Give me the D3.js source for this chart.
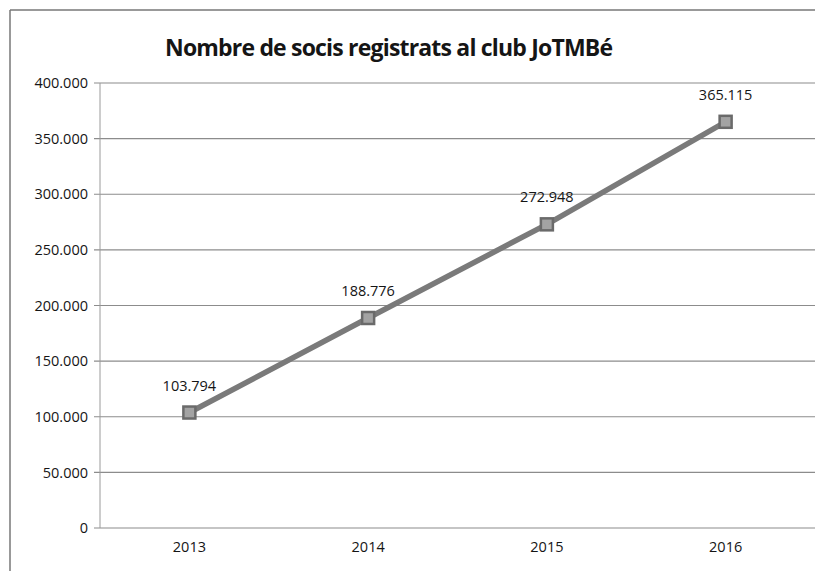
<!DOCTYPE html>
<html>
<head>
<meta charset="utf-8">
<script src="https://cdn.jsdelivr.net/npm/d3@7"></script>
<style>
  body { margin: 0; background: #fff; }
  text { font-family: "Open Sans", "Noto Sans", sans-serif; fill: #151515; }
</style>
</head>
<body>
<div id="chart"></div>
<script>
// data
var years = ["2013", "2014", "2015", "2016"];
var socis = [103794, 188776, 272948, 365115];
var yTicks = [0, 50000, 100000, 150000, 200000, 250000, 300000, 350000, 400000];

var width = 827, height = 571;
var margin = {top: 83, right: 12, bottom: 43, left: 100};

var locale = d3.formatLocale({decimal: ",", thousands: ".", grouping: [3], currency: ["", "€"]});
var fmt = locale.format(",d");

var svg = d3.select("#chart").append("svg")
    .attr("width", width)
    .attr("height", height);

// outer frame (only the left and top edges show in the scan)
svg.append("line").attr("x1", 10).attr("x2", 10).attr("y1", 10).attr("y2", height)
    .style("stroke", "#777").style("stroke-width", 1.5);
svg.append("line").attr("x1", 10).attr("x2", 815).attr("y1", 10).attr("y2", 10)
    .style("stroke", "#777").style("stroke-width", 1.5);

svg.append("text")
    .attr("x", 389).attr("y", 56)
    .attr("text-anchor", "middle")
    .attr("textLength", 448)
    .style("font-size", "23px").style("font-weight", "bold")
    .text("Nombre de socis registrats al club JoTMBé");

var x = d3.scaleBand().domain(years)
    .range([margin.left, width - margin.right]);
var y = d3.scaleLinear().domain([0, 400000])
    .range([height - margin.bottom, margin.top]);

// horizontal grid
svg.append("g").selectAll("line").data(yTicks)
    .enter().append("line")
    .attr("x1", margin.left - 6).attr("x2", width - margin.right)
    .attr("y1", function(d) { return y(d); })
    .attr("y2", function(d) { return y(d); })
    .style("stroke", "#8c8c8c").style("stroke-width", 1.2);

// vertical axis line
svg.append("line")
    .attr("x1", margin.left).attr("x2", margin.left)
    .attr("y1", y(400000)).attr("y2", y(0))
    .style("stroke", "#9a9a9a").style("stroke-width", 1);

var yAxis = svg.append("g")
    .attr("transform", "translate(" + margin.left + ",0)")
    .call(d3.axisLeft(y).tickValues(yTicks).tickFormat(fmt).tickSize(0).tickPadding(12));
yAxis.select(".domain").remove();
yAxis.selectAll("text").style("font-size", "14.5px").style("fill", "#151515");

var xAxis = svg.append("g")
    .attr("transform", "translate(0," + y(0) + ")")
    .call(d3.axisBottom(x).tickSize(0).tickPadding(14));
xAxis.select(".domain").remove();
xAxis.selectAll("text").style("font-size", "14.5px").style("fill", "#151515");

var pts = years.map(function(d, i) { return {year: d, value: socis[i]}; });
var cx = function(d) { return x(d.year) + x.bandwidth() / 2; };

var line = d3.line()
    .x(cx)
    .y(function(d) { return y(d.value); });

svg.append("path").datum(pts)
    .attr("d", line)
    .style("fill", "none")
    .style("stroke", "#7a7a7a")
    .style("stroke-width", 5.5);

svg.selectAll("rect.mk").data(pts)
    .enter().append("rect")
    .attr("class", "mk")
    .attr("x", function(d) { return cx(d) - 6; })
    .attr("y", function(d) { return y(d.value) - 6; })
    .attr("width", 12).attr("height", 12)
    .style("fill", "#a3a3a3")
    .style("stroke", "#6a6a6a")
    .style("stroke-width", 2.5);

svg.selectAll("text.lbl").data(pts)
    .enter().append("text")
    .attr("class", "lbl")
    .attr("x", cx)
    .attr("y", function(d) { return y(d.value) - 22; })
    .attr("text-anchor", "middle")
    .style("font-size", "14.5px")
    .text(function(d) { return fmt(d.value); });
</script>
</body>
</html>
